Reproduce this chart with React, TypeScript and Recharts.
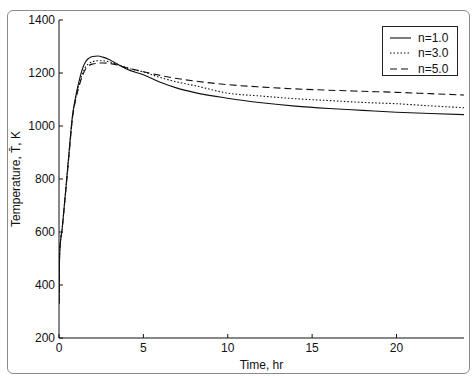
import React from "react"
import { LineChart, Line, XAxis, YAxis } from "recharts"

const times = [0, 0.04, 0.2, 0.4, 0.6, 0.8, 1.0, 1.2, 1.4, 1.6, 1.8, 2.0, 2.3, 2.6, 3.0, 3.5, 4.0, 5, 6, 7, 8, 10, 12, 14, 16, 18, 20, 22, 24]
const n1 = [330, 520, 620, 760, 905, 1040, 1115, 1172, 1218, 1245, 1257, 1262, 1264, 1260, 1250, 1232, 1215, 1193, 1165, 1143, 1127, 1105, 1088, 1075, 1066, 1059, 1052, 1047, 1043]
const n3 = [330, 520, 620, 757, 900, 1035, 1108, 1160, 1200, 1225, 1237, 1243, 1246, 1246, 1242, 1232, 1220, 1204, 1183, 1166, 1153, 1124, 1113, 1103, 1096, 1089, 1084, 1076, 1069]
const n5 = [330, 520, 620, 755, 895, 1030, 1102, 1152, 1192, 1217, 1229, 1234, 1237, 1238, 1236, 1229, 1220, 1205, 1191, 1179, 1170, 1156, 1147, 1140, 1135, 1131, 1127, 1122, 1117]

const xTicks = [0, 5, 10, 15, 20]
const yTicks = [200, 400, 600, 800, 1000, 1200, 1400]

const series = [
  { key: "n1", name: "n=1.0", dash: undefined as string | undefined },
  { key: "n3", name: "n=3.0", dash: "1.5 2" },
  { key: "n5", name: "n=5.0", dash: "7 4" },
]

const data = times.map((t, i) => ({ t, n1: n1[i], n3: n3[i], n5: n5[i] }))

const ink = "#111"
const font = { fontSize: 12, fill: ink, fontFamily: "'Liberation Sans', Arial, sans-serif" }

export default function App() {
  return (
    <div style={{ position: "absolute", left: 0, top: 0, width: 476, height: 377, background: "#fff" }}>
      <div
        style={{
          position: "absolute",
          left: 7,
          top: 10,
          width: 461,
          height: 362,
          border: "1px solid #8a8a8a",
          borderRadius: 6,
        }}
      />
      <LineChart width={476} height={377} data={data} margin={{ top: 20, right: 12, bottom: 0, left: 0 }}>
        <XAxis
          dataKey="t"
          type="number"
          domain={[0, 24]}
          ticks={xTicks}
          allowDataOverflow
          height={39}
          tickSize={-4}
          tickMargin={9}
          tick={font}
          stroke={ink}
          label={{ value: "Time, hr", position: "insideBottom", offset: 8, style: font }}
        />
        <XAxis
          xAxisId="top"
          dataKey="t"
          type="number"
          orientation="top"
          domain={[0, 24]}
          ticks={xTicks}
          height={0}
          tickSize={-4}
          tick={false}
          stroke={ink}
        />
        <YAxis
          type="number"
          domain={[200, 1400]}
          ticks={yTicks}
          width={59}
          tickSize={-4}
          tickMargin={8}
          tick={font}
          stroke={ink}
          label={{
            value: "Temperature, T\u0304, K",
            angle: -90,
            position: "insideLeft",
            offset: 16,
            style: { ...font, textAnchor: "middle" },
          }}
        />
        <YAxis
          yAxisId="right"
          type="number"
          orientation="right"
          domain={[200, 1400]}
          ticks={yTicks}
          width={0}
          tickSize={-4}
          tick={false}
          stroke={ink}
        />
        {series.map((s) => (
          <Line
            key={s.key}
            type="monotone"
            dataKey={s.key}
            name={s.name}
            stroke={ink}
            strokeWidth={1.1}
            strokeDasharray={s.dash}
            dot={false}
            isAnimationActive={false}
          />
        ))}
      </LineChart>
      <div
        style={{
          position: "absolute",
          left: 382,
          top: 26,
          width: 76,
          height: 50,
          border: "1px solid #222",
          background: "#fff",
          boxSizing: "border-box",
          paddingTop: 3,
        }}
      >
        {series.map((s) => (
          <div key={s.key} style={{ display: "flex", alignItems: "center", height: 15.5, fontFamily: font.fontFamily, fontSize: 12, color: ink }}>
            <svg width={30} height={10} style={{ marginLeft: 5 }}>
              <line x1={2} x2={23} y1={5} y2={5} stroke={ink} strokeWidth={1.1} strokeDasharray={s.dash} />
            </svg>
            <span>{s.name}</span>
          </div>
        ))}
      </div>
    </div>
  )
}
